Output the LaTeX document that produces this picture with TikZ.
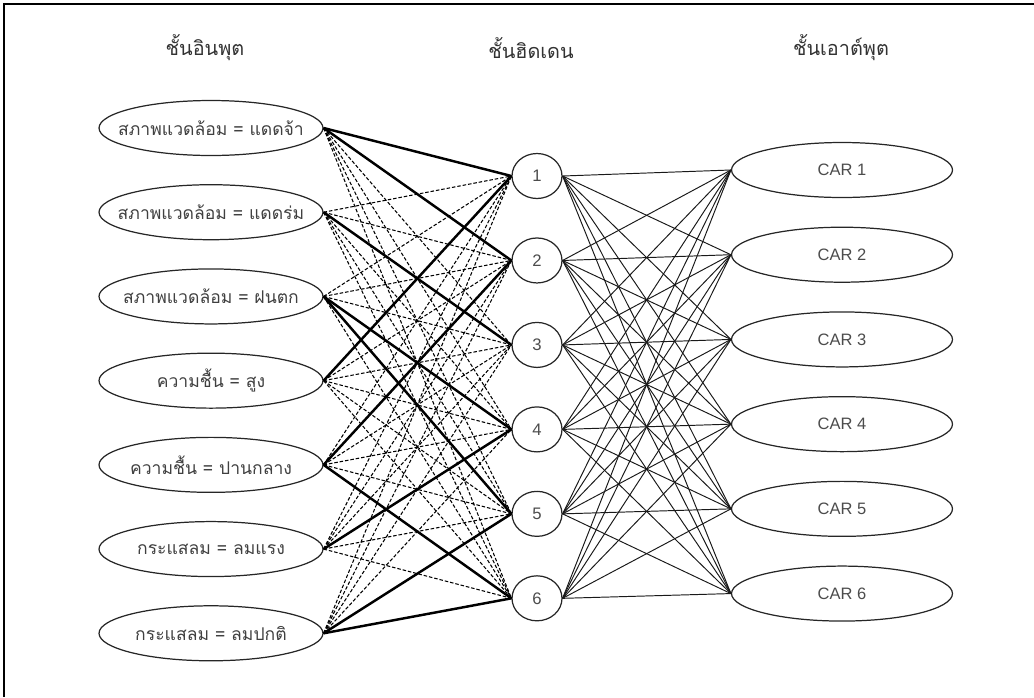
\documentclass[tikz,border=0pt]{standalone}
\usepackage{fontspec}
\setmainfont{Liberation Sans}
\newfontfamily\thaifont[Script=Thai]{Loma}
\usetikzlibrary{shapes,positioning}

\begin{document}
\begin{tikzpicture}[
    x=0.02cm, y=-0.02cm,
    node distance=0.56cm,
    layer/.style={font=\thaifont\fontsize{11.3}{13}\selectfont, text=black!80},
    inp/.style={draw=black!85, ellipse, line width=0.7pt, minimum width=4.48cm, minimum height=1.1cm,
        inner xsep=-0.45cm, inner ysep=0pt, font=\thaifont\fontsize{10}{12}\selectfont, text=black!75},
    hid/.style={draw=black!85, ellipse, line width=0.7pt, minimum width=1cm, minimum height=0.9cm,
        inner sep=0pt, font=\fontsize{9.5}{11}\selectfont, text=black!70},
    outp/.style={draw=black!85, ellipse, line width=0.7pt, minimum width=4.42cm, minimum height=1.1cm,
        inner sep=0pt, font=\fontsize{9.4}{11}\selectfont, text=black!70},
    weak/.style={black, line width=0.6pt, dash pattern=on 2pt off 1.1pt},
    strong/.style={black, line width=1.4pt},
    link/.style={black!90, line width=0.55pt}
]
    \useasboundingbox (0,0) rectangle (1034,697);
    % Frame
    \draw[line width=1.1pt] (1034,4) -- (4,4) -- (4,697);

    % Layer titles
    \node[layer] (t_in) at (205,48) {ชั้นอินพุต};
    \node[layer] (t_hid) at (531,48) {ชั้นฮิดเดน};
    \node[layer] (t_out) at (841,48) {ชั้นเอาต์พุต};

    % Input Layer
    \node[inp] (in1) at (211,128) {สภาพแวดล้อม = แดดจ้า};
    \node[inp, below=of in1] (in2) {สภาพแวดล้อม = แดดร่ม};
    \node[inp, below=of in2] (in3) {สภาพแวดล้อม = ฝนตก};
    \node[inp, below=of in3] (in4) {ความชื้น = สูง};
    \node[inp, below=of in4] (in5) {ความชื้น = ปานกลาง};
    \node[inp, below=of in5] (in6) {กระแสลม = ลมแรง};
    \node[inp, below=of in6] (in7) {กระแสลม = ลมปกติ};

    % Hidden Layer
    \node[hid] (h1) at (537,176) {1};
    \node[hid, below=0.765cm of h1] (h2) {2};
    \node[hid, below=0.765cm of h2] (h3) {3};
    \node[hid, below=0.765cm of h3] (h4) {4};
    \node[hid, below=0.765cm of h4] (h5) {5};
    \node[hid, below=0.765cm of h5] (h6) {6};

    % Output Layer
    \node[outp] (car1) at (842,170) {CAR 1};
    \node[outp, below=0.57cm of car1] (car2) {CAR 2};
    \node[outp, below=0.57cm of car2] (car3) {CAR 3};
    \node[outp, below=0.57cm of car3] (car4) {CAR 4};
    \node[outp, below=0.57cm of car4] (car5) {CAR 5};
    \node[outp, below=0.57cm of car5] (car6) {CAR 6};

    % Connections
    \foreach \i in {1,...,7}
        \foreach \j in {1,...,6}
            \draw[weak] (in\i.east) -- (h\j.west);

    \foreach \i/\j in {1/1,1/2,2/3,3/4,3/5,4/1,5/2,5/6,6/4,7/5,7/6}
        \draw[strong] (in\i.east) -- (h\j.west);

    \foreach \j in {1,...,6}
        \foreach \k in {1,...,6}
            \draw[link] (h\j.east) -- (car\k.west);
\end{tikzpicture}
\end{document}
